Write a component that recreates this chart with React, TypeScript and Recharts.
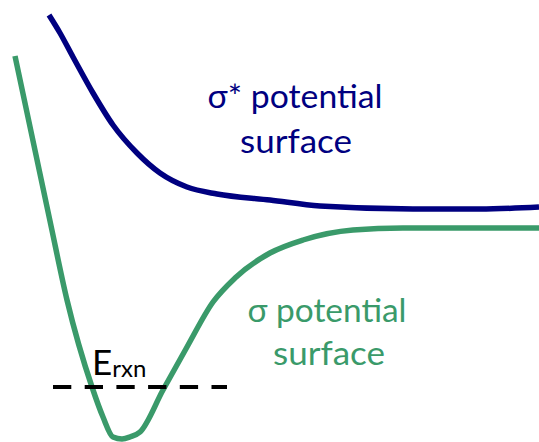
import React from "react";
import { LineChart, Line, XAxis, YAxis, Customized } from "recharts";

const sigmaStarX = [49, 60, 73, 93, 113, 137, 160, 187, 217, 270, 320, 413, 480, 539];
const sigmaStarE = [427, 409, 385, 349, 317, 289, 269, 255, 248, 242, 236, 233, 233, 235];

const sigmaX = [15, 50, 67, 92, 103, 113, 122, 130, 140, 163, 187, 213, 235, 270, 303, 353, 403, 470, 539];
const sigmaE = [386, 221, 142, 55, 25, 5, 3, 5, 10, 52, 95, 140, 164, 189, 202, 212, 214, 214, 214];

const erxnX = [53, 227];
const erxnE = [55, 55];

const NAVY = "#000080";
const GREEN = "#3a9a6a";
const FONT = "'Comic Sans MS', Lato, 'DejaVu Sans', sans-serif";

const toRows = (xs: number[], es: number[]) => xs.map((x, i) => ({ x, e: es[i] }));

const sigmaStar = toRows(sigmaStarX, sigmaStarE);
const sigma = toRows(sigmaX, sigmaE);
const erxn = toRows(erxnX, erxnE);

function Labels() {
  return (
    <g fontFamily={FONT}>
      <text x={295} y={108} textAnchor="middle" fontSize={32} fill={NAVY} textLength={175} lengthAdjust="spacingAndGlyphs">
        σ* potential
      </text>
      <text x={296} y={153} textAnchor="middle" fontSize={32} fill={NAVY} textLength={112} lengthAdjust="spacingAndGlyphs">
        surface
      </text>
      <text x={327} y={322} textAnchor="middle" fontSize={32} fill={GREEN} textLength={159} lengthAdjust="spacingAndGlyphs">
        σ potential
      </text>
      <text x={329} y={365} textAnchor="middle" fontSize={32} fill={GREEN} textLength={112} lengthAdjust="spacingAndGlyphs">
        surface
      </text>
      <text x={92} y={375} fontSize={35} fill="#000">
        E
        <tspan fontSize={24} dy={2}>rxn</tspan>
      </text>
    </g>
  );
}

export default function App() {
  return (
    <div style={{ position: "absolute", left: 0, top: 0, background: "#fff" }}>
      <LineChart width={539} height={442} margin={{ top: 0, right: 0, bottom: 0, left: 0 }}>
        <XAxis type="number" dataKey="x" domain={[0, 539]} hide />
        <YAxis type="number" dataKey="e" domain={[0, 442]} hide />
        <Line data={sigmaStar} dataKey="e" type="monotone" stroke={NAVY} strokeWidth={5.5} dot={false} activeDot={false} isAnimationActive={false} />
        <Line data={sigma} dataKey="e" type="monotone" stroke={GREEN} strokeWidth={5.5} dot={false} activeDot={false} isAnimationActive={false} />
        <Line
          data={erxn}
          dataKey="e"
          type="linear"
          stroke="#000"
          strokeWidth={4}
          strokeDasharray="18.3 13.4"
          dot={false}
          activeDot={false}
          isAnimationActive={false}
        />
        <Customized component={Labels} />
      </LineChart>
    </div>
  );
}
